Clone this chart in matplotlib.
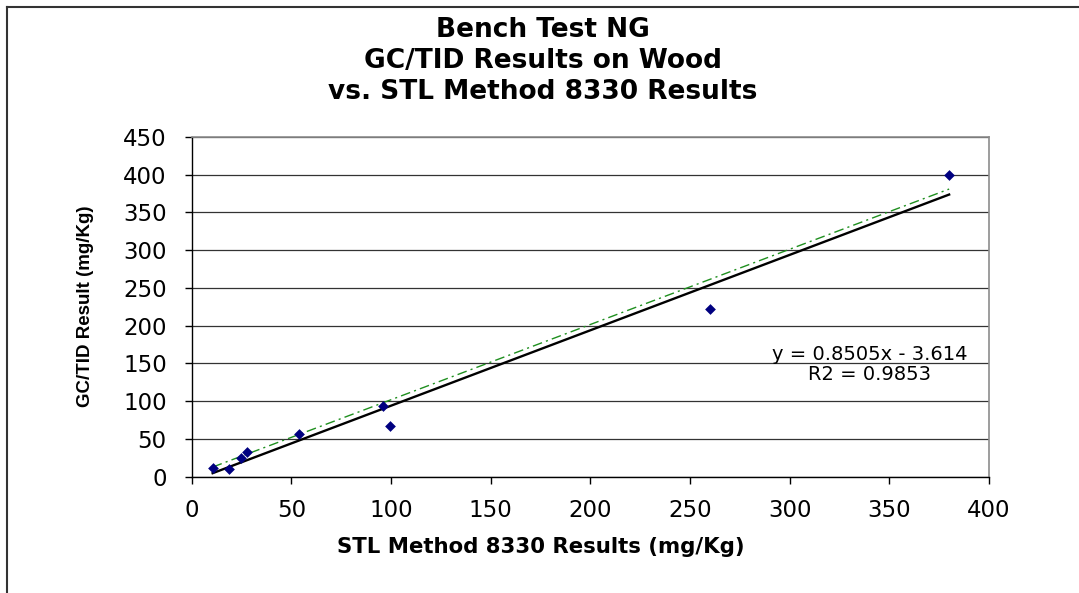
import numpy as np
import matplotlib
matplotlib.use("Agg")
import matplotlib.pyplot as plt
from matplotlib.lines import Line2D

# data
stl = [10.5, 18.7, 24.7, 27.7, 53.7, 96, 99.6, 260, 380]
gc_tid = [11, 10, 24, 32.5, 56.5, 94, 66.5, 222, 399]
# green dash-dot trend line (end points)
green_x = [10.5, 380]
green_y = [12.5, 381]
title_lines = ["Bench Test NG", "GC/TID Results on Wood", "vs. STL Method 8330 Results"]
eq_text = "y = 0.8505x - 3.614"
r2_text = "R2 = 0.9853"

W, H = 1079, 593
fig = plt.figure(figsize=(W / 100, H / 100), dpi=100)
x0, x1 = 191.7, 989.0
y0, y1 = 476.5, 137.0
ax = fig.add_axes([x0 / W, 1 - y0 / H, (x1 - x0) / W, (y0 - y1) / H])

ax.scatter(stl, gc_tid, marker="D", s=30, color="#000080", zorder=4, linewidths=0)

# least squares fit (black)
m, b = np.polyfit(stl, gc_tid, 1)
xf = np.array([min(stl), max(stl)])
ax.plot(xf, m * xf + b, color="black", lw=1.7, zorder=3)
ax.plot(green_x, green_y, color="#1f8f1f", lw=1.0, ls=(0, (7, 3, 1.5, 3)), zorder=3)

ax.set_xlim(0, 400)
ax.set_ylim(0, 450)
ax.set_xticks(np.arange(0, 401, 50))
ax.set_yticks(np.arange(0, 451, 50))
ax.yaxis.grid(True, color="#333333", lw=0.9)
ax.set_axisbelow(True)
for s in ["top", "right"]:
    ax.spines[s].set_color("#8c8c8c")
    ax.spines[s].set_linewidth(1.2)
for s in ["left", "bottom"]:
    ax.spines[s].set_color("black")
    ax.spines[s].set_linewidth(1.0)
ax.tick_params(direction="out", length=5, width=1, color="black", labelsize=16.5)
ax.tick_params(axis="y", pad=13)
ax.tick_params(axis="x", pad=11)
for lab in ax.get_xticklabels() + ax.get_yticklabels():
    lab.set_family("DejaVu Sans")

ax.set_xlabel("STL Method 8330 Results (mg/Kg)", fontsize=15.3, fontweight="bold",
              family="DejaVu Sans", va="center", ha="center")
ax.xaxis.set_label_coords((541 - x0) / (x1 - x0), -(547 - y0) / (y0 - y1))
ax.set_ylabel("GC/TID Result (mg/Kg)", fontsize=13.5, fontweight="bold",
              family="Liberation Sans", va="center", ha="center")
ax.yaxis.set_label_coords((85 - x0) / (x1 - x0), (y0 - 306) / (y0 - y1))

ax.text((870 - x0) / (x1 - x0), (y0 - 354) / (y0 - y1), eq_text, transform=ax.transAxes,
        ha="center", va="center", fontsize=14, family="DejaVu Sans")
ax.text((870 - x0) / (x1 - x0), (y0 - 374) / (y0 - y1), r2_text, transform=ax.transAxes,
        ha="center", va="center", fontsize=14, family="DejaVu Sans")

for i, t in enumerate(title_lines):
    fig.text(543 / W, 1 - (30 + 31 * i) / H, t, ha="center", va="center",
             fontsize=19, fontweight="bold", family="DejaVu Sans")

# chart border (left and top edges visible)
fig.add_artist(Line2D([7 / W, 7 / W], [0, 1 - 7 / H], transform=fig.transFigure,
                      color="#333333", lw=1.5))
fig.add_artist(Line2D([7 / W, 1], [1 - 7 / H, 1 - 7 / H], transform=fig.transFigure,
                      color="#333333", lw=1.5))

fig.savefig("out.png", dpi=100)
